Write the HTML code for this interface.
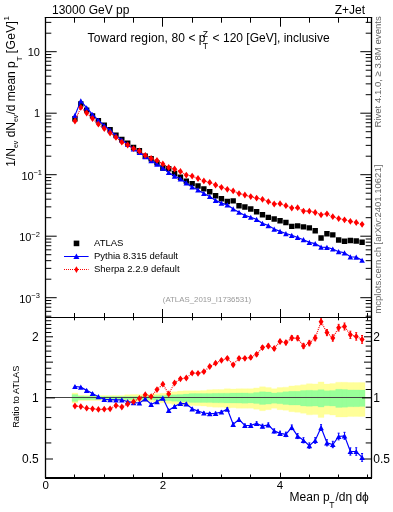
<!DOCTYPE html><html><head><meta charset="utf-8"><style>html,body{margin:0;padding:0;background:#fff;width:393px;height:512px;overflow:hidden}svg{display:block;will-change:transform}</style></head><body><svg width="393" height="512" viewBox="0 0 393 512"><path d="M72.02 393.01H77.88V403.07H72.02ZM77.88 395.29H83.74V400.59H77.88ZM83.74 395.38H89.60V400.49H83.74ZM89.60 395.47H95.46V400.40H89.60ZM95.46 395.47H101.32V400.40H95.46ZM101.32 395.47H107.18V400.40H101.32ZM107.18 395.47H113.04V400.40H107.18ZM113.04 395.47H118.90V400.40H113.04ZM118.90 395.38H124.76V400.49H118.90ZM124.76 394.70H130.62V401.22H124.76ZM130.62 394.53H136.48V401.41H130.62ZM136.48 394.44H142.34V401.50H136.48ZM142.34 394.36H148.20V401.59H142.34ZM148.20 394.27H154.06V401.68H148.20ZM154.06 393.77H159.92V402.24H154.06ZM159.92 393.35H165.78V402.70H159.92ZM165.78 392.60H171.64V403.54H165.78ZM171.64 391.77H177.50V404.49H171.64ZM177.50 391.03H183.36V405.35H177.50ZM183.36 390.71H189.22V405.73H183.36ZM189.22 390.87H195.08V405.54H189.22ZM195.08 390.71H200.94V405.73H195.08ZM200.94 390.46H206.80V406.02H200.94ZM206.80 389.82H212.66V406.80H206.80ZM212.66 389.50H218.52V407.19H212.66ZM218.52 389.50H224.38V407.19H218.52ZM224.38 388.70H230.24V408.17H224.38ZM230.24 389.10H236.10V407.68H230.24ZM236.10 388.70H241.96V408.17H236.10ZM241.96 388.70H247.82V408.17H241.96ZM247.82 388.70H253.68V408.17H247.82ZM253.68 387.91H259.54V409.17H253.68ZM259.54 386.74H265.40V410.69H259.54ZM265.40 387.52H271.26V409.67H265.40ZM271.26 388.70H277.12V408.17H271.26ZM277.12 387.52H282.98V409.67H277.12ZM282.98 387.13H288.84V410.18H282.98ZM288.84 385.96H294.70V411.71H288.84ZM294.70 385.58H300.56V412.23H294.70ZM300.56 384.82H306.42V413.27H300.56ZM306.42 383.68H312.28V414.86H306.42ZM312.28 383.91H318.14V414.54H312.28ZM318.14 381.90H324.00V417.46H318.14ZM324.00 384.06H329.86V414.33H324.00ZM329.86 383.53H335.72V415.07H329.86ZM335.72 382.19H341.58V417.02H335.72ZM341.58 382.27H347.44V416.91H341.58ZM347.44 382.56H353.30V416.48H347.44ZM353.30 382.56H359.16V416.48H353.30ZM359.16 382.56H365.02V416.48H359.16Z" fill="#ffff99" stroke="#ffff99" stroke-width="0.3"/><path d="M72.02 394.53H77.88V401.41H72.02ZM77.88 396.07H83.74V399.77H77.88ZM83.74 396.15H89.60V399.68H83.74ZM89.60 396.24H95.46V399.59H89.60ZM95.46 396.50H101.32V399.32H95.46ZM101.32 396.50H107.18V399.32H101.32ZM107.18 396.50H113.04V399.32H107.18ZM113.04 396.50H118.90V399.32H113.04ZM118.90 396.50H124.76V399.32H118.90ZM124.76 396.41H130.62V399.41H124.76ZM130.62 396.41H136.48V399.41H130.62ZM136.48 396.41H142.34V399.41H136.48ZM142.34 396.33H148.20V399.50H142.34ZM148.20 396.24H154.06V399.59H148.20ZM154.06 395.72H159.92V400.13H154.06ZM159.92 395.47H165.78V400.40H159.92ZM165.78 395.12H171.64V400.77H165.78ZM171.64 394.78H177.50V401.13H171.64ZM177.50 394.44H183.36V401.50H177.50ZM183.36 394.10H189.22V401.87H183.36ZM189.22 393.60H195.08V402.42H189.22ZM195.08 393.60H200.94V402.42H195.08ZM200.94 393.51H206.80V402.51H200.94ZM206.80 393.43H212.66V402.61H206.80ZM212.66 393.35H218.52V402.70H212.66ZM218.52 393.26H224.38V402.79H218.52ZM224.38 393.18H230.24V402.89H224.38ZM230.24 393.10H236.10V402.98H230.24ZM236.10 393.01H241.96V403.07H236.10ZM241.96 392.93H247.82V403.17H241.96ZM247.82 393.18H253.68V402.89H247.82ZM253.68 392.60H259.54V403.54H253.68ZM259.54 391.77H265.40V404.49H259.54ZM265.40 392.10H271.26V404.11H265.40ZM271.26 392.93H277.12V403.17H271.26ZM277.12 392.43H282.98V403.73H277.12ZM282.98 391.77H288.84V404.49H282.98ZM288.84 391.36H294.70V404.96H288.84ZM294.70 391.36H300.56V404.96H294.70ZM300.56 390.55H306.42V405.92H300.56ZM306.42 390.30H312.28V406.21H306.42ZM312.28 390.46H318.14V406.02H312.28ZM318.14 389.66H324.00V406.99H318.14ZM324.00 390.71H329.86V405.73H324.00ZM329.86 390.46H335.72V406.02H329.86ZM335.72 389.34H341.58V407.38H335.72ZM341.58 389.50H347.44V407.19H341.58ZM347.44 389.90H353.30V406.70H347.44ZM353.30 389.90H359.16V406.70H353.30ZM359.16 390.06H365.02V406.51H359.16Z" fill="#99ff99" stroke="#99ff99" stroke-width="0.3"/><path d="M46 397.50H371" stroke="#444" stroke-width="1" fill="none"/><path d="M44.85 17.5H372.15M45.5 317.5H371.5" stroke="#000" stroke-width="1" fill="none"/><path d="M371.5 17.0V478.0M45.5 17.0V478.0" stroke="#000" stroke-width="1.3" fill="none"/><rect x="45" y="477" width="327" height="2" fill="#000"/><path d="M46.00 316.21L51.30 316.21M371.00 316.21L365.70 316.21M46.00 311.34L51.30 311.34M371.00 311.34L365.70 311.34M46.00 307.23L51.30 307.23M371.00 307.23L365.70 307.23M46.00 303.66L51.30 303.66M371.00 303.66L365.70 303.66M46.00 300.51L51.30 300.51M371.00 300.51L365.70 300.51M46.00 297.70L56.70 297.70M371.00 297.70L360.30 297.70M46.00 279.19L51.30 279.19M371.00 279.19L365.70 279.19M46.00 268.36L51.30 268.36M371.00 268.36L365.70 268.36M46.00 260.67L51.30 260.67M371.00 260.67L365.70 260.67M46.00 254.71L51.30 254.71M371.00 254.71L365.70 254.71M46.00 249.84L51.30 249.84M371.00 249.84L365.70 249.84M46.00 245.73L51.30 245.73M371.00 245.73L365.70 245.73M46.00 242.16L51.30 242.16M371.00 242.16L365.70 242.16M46.00 239.01L51.30 239.01M371.00 239.01L365.70 239.01M46.00 236.20L56.70 236.20M371.00 236.20L360.30 236.20M46.00 217.69L51.30 217.69M371.00 217.69L365.70 217.69M46.00 206.86L51.30 206.86M371.00 206.86L365.70 206.86M46.00 199.17L51.30 199.17M371.00 199.17L365.70 199.17M46.00 193.21L51.30 193.21M371.00 193.21L365.70 193.21M46.00 188.34L51.30 188.34M371.00 188.34L365.70 188.34M46.00 184.23L51.30 184.23M371.00 184.23L365.70 184.23M46.00 180.66L51.30 180.66M371.00 180.66L365.70 180.66M46.00 177.51L51.30 177.51M371.00 177.51L365.70 177.51M46.00 174.70L56.70 174.70M371.00 174.70L360.30 174.70M46.00 156.19L51.30 156.19M371.00 156.19L365.70 156.19M46.00 145.36L51.30 145.36M371.00 145.36L365.70 145.36M46.00 137.67L51.30 137.67M371.00 137.67L365.70 137.67M46.00 131.71L51.30 131.71M371.00 131.71L365.70 131.71M46.00 126.84L51.30 126.84M371.00 126.84L365.70 126.84M46.00 122.73L51.30 122.73M371.00 122.73L365.70 122.73M46.00 119.16L51.30 119.16M371.00 119.16L365.70 119.16M46.00 116.01L51.30 116.01M371.00 116.01L365.70 116.01M46.00 113.20L56.70 113.20M371.00 113.20L360.30 113.20M46.00 94.69L51.30 94.69M371.00 94.69L365.70 94.69M46.00 83.86L51.30 83.86M371.00 83.86L365.70 83.86M46.00 76.17L51.30 76.17M371.00 76.17L365.70 76.17M46.00 70.21L51.30 70.21M371.00 70.21L365.70 70.21M46.00 65.34L51.30 65.34M371.00 65.34L365.70 65.34M46.00 61.23L51.30 61.23M371.00 61.23L365.70 61.23M46.00 57.66L51.30 57.66M371.00 57.66L365.70 57.66M46.00 54.51L51.30 54.51M371.00 54.51L365.70 54.51M46.00 51.70L56.70 51.70M371.00 51.70L360.30 51.70M46.00 33.19L51.30 33.19M371.00 33.19L365.70 33.19M46.00 22.36L51.30 22.36M371.00 22.36L365.70 22.36M45.50 18.00L45.50 26.70M45.50 317.00L45.50 309.00M45.50 318.00L45.50 323.00M45.50 477.00L45.50 472.70M74.50 18.00L74.50 22.70M74.50 317.00L74.50 313.00M74.50 318.00L74.50 320.30M74.50 477.00L74.50 474.50M104.50 18.00L104.50 22.70M104.50 317.00L104.50 313.00M104.50 318.00L104.50 320.30M104.50 477.00L104.50 474.50M133.50 18.00L133.50 22.70M133.50 317.00L133.50 313.00M133.50 318.00L133.50 320.30M133.50 477.00L133.50 474.50M162.50 18.00L162.50 26.70M162.50 317.00L162.50 309.00M162.50 318.00L162.50 323.00M162.50 477.00L162.50 472.70M192.50 18.00L192.50 22.70M192.50 317.00L192.50 313.00M192.50 318.00L192.50 320.30M192.50 477.00L192.50 474.50M221.50 18.00L221.50 22.70M221.50 317.00L221.50 313.00M221.50 318.00L221.50 320.30M221.50 477.00L221.50 474.50M250.50 18.00L250.50 22.70M250.50 317.00L250.50 313.00M250.50 318.00L250.50 320.30M250.50 477.00L250.50 474.50M280.50 18.00L280.50 26.70M280.50 317.00L280.50 309.00M280.50 318.00L280.50 323.00M280.50 477.00L280.50 472.70M309.50 18.00L309.50 22.70M309.50 317.00L309.50 313.00M309.50 318.00L309.50 320.30M309.50 477.00L309.50 474.50M338.50 18.00L338.50 22.70M338.50 317.00L338.50 313.00M338.50 318.00L338.50 320.30M338.50 477.00L338.50 474.50M367.50 18.00L367.50 22.70M367.50 317.00L367.50 313.00M367.50 318.00L367.50 320.30M367.50 477.00L367.50 474.50M46.00 459.01L53.00 459.01M371.00 459.01L364.00 459.01M46.00 442.94L51.30 442.94M371.00 442.94L365.70 442.94M46.00 429.35L51.30 429.35M371.00 429.35L365.70 429.35M46.00 417.57L51.30 417.57M371.00 417.57L365.70 417.57M46.00 407.19L51.30 407.19M371.00 407.19L365.70 407.19M46.00 397.90L55.00 397.90M371.00 397.90L362.00 397.90M46.00 389.50L51.30 389.50M371.00 389.50L365.70 389.50M46.00 381.83L51.30 381.83M371.00 381.83L365.70 381.83M46.00 374.77L51.30 374.77M371.00 374.77L365.70 374.77M46.00 368.24L51.30 368.24M371.00 368.24L365.70 368.24M46.00 362.15L53.00 362.15M371.00 362.15L364.00 362.15M46.00 356.46L51.30 356.46M371.00 356.46L365.70 356.46M46.00 351.12L51.30 351.12M371.00 351.12L365.70 351.12M46.00 346.08L51.30 346.08M371.00 346.08L365.70 346.08M46.00 341.31L51.30 341.31M371.00 341.31L365.70 341.31M46.00 336.79L53.00 336.79M371.00 336.79L364.00 336.79M46.00 332.49L51.30 332.49M371.00 332.49L365.70 332.49M46.00 328.39L51.30 328.39M371.00 328.39L365.70 328.39M46.00 324.47L51.30 324.47M371.00 324.47L365.70 324.47M46.00 320.72L51.30 320.72M371.00 320.72L365.70 320.72" stroke="#000" stroke-width="1" fill="none"/><path d="M72.25 116.12h5.40v5.40h-5.40ZM78.11 101.33h5.40v5.40h-5.40ZM83.97 107.39h5.40v5.40h-5.40ZM89.83 113.15h5.40v5.40h-5.40ZM95.69 118.02h5.40v5.40h-5.40ZM101.55 122.38h5.40v5.40h-5.40ZM107.41 127.00h5.40v5.40h-5.40ZM113.27 132.40h5.40v5.40h-5.40ZM119.13 136.74h5.40v5.40h-5.40ZM124.99 140.45h5.40v5.40h-5.40ZM130.85 144.75h5.40v5.40h-5.40ZM136.71 148.12h5.40v5.40h-5.40ZM142.57 153.57h5.40v5.40h-5.40ZM148.43 155.99h5.40v5.40h-5.40ZM154.29 160.21h5.40v5.40h-5.40ZM160.15 165.35h5.40v5.40h-5.40ZM166.01 166.01h5.40v5.40h-5.40ZM171.87 170.81h5.40v5.40h-5.40ZM177.73 174.49h5.40v5.40h-5.40ZM183.59 178.43h5.40v5.40h-5.40ZM189.45 180.91h5.40v5.40h-5.40ZM195.31 183.25h5.40v5.40h-5.40ZM201.17 186.14h5.40v5.40h-5.40ZM207.03 189.06h5.40v5.40h-5.40ZM212.89 193.01h5.40v5.40h-5.40ZM218.75 196.10h5.40v5.40h-5.40ZM224.61 198.75h5.40v5.40h-5.40ZM230.47 198.21h5.40v5.40h-5.40ZM236.33 203.00h5.40v5.40h-5.40ZM242.19 204.35h5.40v5.40h-5.40ZM248.05 206.24h5.40v5.40h-5.40ZM253.91 209.01h5.40v5.40h-5.40ZM259.77 212.12h5.40v5.40h-5.40ZM265.63 214.71h5.40v5.40h-5.40ZM271.49 216.33h5.40v5.40h-5.40ZM277.35 217.99h5.40v5.40h-5.40ZM283.21 219.78h5.40v5.40h-5.40ZM289.07 223.67h5.40v5.40h-5.40ZM294.93 223.19h5.40v5.40h-5.40ZM300.79 224.16h5.40v5.40h-5.40ZM306.65 225.15h5.40v5.40h-5.40ZM312.51 228.02h5.40v5.40h-5.40ZM318.37 235.34h5.40v5.40h-5.40ZM324.23 231.09h5.40v5.40h-5.40ZM330.09 232.17h5.40v5.40h-5.40ZM335.95 237.31h5.40v5.40h-5.40ZM341.81 238.59h5.40v5.40h-5.40ZM347.67 237.83h5.40v5.40h-5.40ZM353.53 238.27h5.40v5.40h-5.40ZM359.39 239.54h5.40v5.40h-5.40Z" fill="#000"/><path d="M74.95 115.37L80.81 100.79L86.67 107.82L92.53 114.52L98.39 120.35L104.25 125.50L110.11 130.21L115.97 135.67L121.83 140.02L127.69 144.30L133.55 148.90L139.41 152.36L145.27 156.57L151.13 160.63L156.99 164.07L162.85 168.11L168.71 172.47L174.57 176.09L180.43 178.82L186.29 182.92L192.15 186.92L198.01 189.95L203.87 193.41L209.73 196.51L215.59 200.40L221.45 203.07L227.31 204.84L233.17 208.91L239.03 212.24L244.89 215.41L250.75 217.27L256.61 219.46L262.47 223.37L268.33 225.56L274.19 229.03L280.05 231.42L285.91 233.54L291.77 235.28L297.63 237.47L303.49 239.71L309.35 242.31L315.21 243.63L321.07 247.04L326.93 247.40L332.79 248.99L338.65 251.71L344.51 252.78L350.37 256.78L356.23 257.21L362.09 260.27" stroke="#00f" stroke-width="1.2" fill="none"/><path d="M74.95 112.77L77.75 117.97L72.15 117.97ZM80.81 98.19L83.61 103.39L78.01 103.39ZM86.67 105.22L89.47 110.42L83.87 110.42ZM92.53 111.92L95.33 117.12L89.73 117.12ZM98.39 117.75L101.19 122.95L95.59 122.95ZM104.25 122.90L107.05 128.10L101.45 128.10ZM110.11 127.61L112.91 132.81L107.31 132.81ZM115.97 133.07L118.77 138.27L113.17 138.27ZM121.83 137.42L124.63 142.62L119.03 142.62ZM127.69 141.70L130.49 146.90L124.89 146.90ZM133.55 146.30L136.35 151.50L130.75 151.50ZM139.41 149.76L142.21 154.96L136.61 154.96ZM145.27 153.97L148.07 159.17L142.47 159.17ZM151.13 158.03L153.93 163.23L148.33 163.23ZM156.99 161.47L159.79 166.67L154.19 166.67ZM162.85 165.51L165.65 170.71L160.05 170.71ZM168.71 169.87L171.51 175.07L165.91 175.07ZM174.57 173.49L177.37 178.69L171.77 178.69ZM180.43 176.22L183.23 181.42L177.63 181.42ZM186.29 180.32L189.09 185.52L183.49 185.52ZM192.15 184.32L194.95 189.52L189.35 189.52ZM198.01 187.35L200.81 192.55L195.21 192.55ZM203.87 190.81L206.67 196.01L201.07 196.01ZM209.73 193.91L212.53 199.11L206.93 199.11ZM215.59 197.80L218.39 203.00L212.79 203.00ZM221.45 200.47L224.25 205.67L218.65 205.67ZM227.31 202.24L230.11 207.44L224.51 207.44ZM233.17 206.31L235.97 211.51L230.37 211.51ZM239.03 209.64L241.83 214.84L236.23 214.84ZM244.89 212.81L247.69 218.01L242.09 218.01ZM250.75 214.67L253.55 219.87L247.95 219.87ZM256.61 216.86L259.41 222.06L253.81 222.06ZM262.47 220.77L265.27 225.97L259.67 225.97ZM268.33 222.96L271.13 228.16L265.53 228.16ZM274.19 226.43L276.99 231.63L271.39 231.63ZM280.05 228.82L282.85 234.02L277.25 234.02ZM285.91 230.94L288.71 236.14L283.11 236.14ZM291.77 232.68L294.57 237.88L288.97 237.88ZM297.63 234.87L300.43 240.07L294.83 240.07ZM303.49 237.11L306.29 242.31L300.69 242.31ZM309.35 239.71L312.15 244.91L306.55 244.91ZM315.21 241.03L318.01 246.23L312.41 246.23ZM321.07 244.44L323.87 249.64L318.27 249.64ZM326.93 244.80L329.73 250.00L324.13 250.00ZM332.79 246.39L335.59 251.59L329.99 251.59ZM338.65 249.11L341.45 254.31L335.85 254.31ZM344.51 250.18L347.31 255.38L341.71 255.38ZM350.37 254.18L353.17 259.38L347.57 259.38ZM356.23 254.61L359.03 259.81L353.43 259.81ZM362.09 257.67L364.89 262.87L359.29 262.87Z" fill="#00f"/><path d="M74.95 121.00L80.81 107.40L86.67 113.00L92.53 118.60L98.39 124.20L104.25 128.50L110.11 133.00L115.97 137.40L121.83 142.20L127.69 145.00L133.55 148.60L139.41 151.00L145.27 155.30L151.13 158.30L156.99 160.40L162.85 163.90L168.71 167.50L174.57 169.00L180.43 171.40L186.29 175.10L192.15 176.10L198.01 178.50L203.87 180.90L209.73 182.40L215.59 185.00L221.45 187.30L227.31 189.30L233.17 190.90L239.03 193.60L244.89 195.00L250.75 196.60L256.61 198.10L262.47 199.30L268.33 201.60L274.19 204.00L280.05 203.70L285.91 205.70L291.77 208.00L297.63 207.70L303.49 211.10L309.35 211.20L315.21 212.50L321.07 214.80L326.93 213.80L332.79 216.70L338.65 218.60L344.51 219.80L350.37 221.30L356.23 222.50L362.09 224.30" stroke="#f00" stroke-width="1.2" stroke-dasharray="1 1" fill="none"/><path d="M74.95 117.60L77.45 121.00L74.95 124.40L72.45 121.00ZM80.81 104.00L83.31 107.40L80.81 110.80L78.31 107.40ZM86.67 109.60L89.17 113.00L86.67 116.40L84.17 113.00ZM92.53 115.20L95.03 118.60L92.53 122.00L90.03 118.60ZM98.39 120.80L100.89 124.20L98.39 127.60L95.89 124.20ZM104.25 125.10L106.75 128.50L104.25 131.90L101.75 128.50ZM110.11 129.60L112.61 133.00L110.11 136.40L107.61 133.00ZM115.97 134.00L118.47 137.40L115.97 140.80L113.47 137.40ZM121.83 138.80L124.33 142.20L121.83 145.60L119.33 142.20ZM127.69 141.60L130.19 145.00L127.69 148.40L125.19 145.00ZM133.55 145.20L136.05 148.60L133.55 152.00L131.05 148.60ZM139.41 147.60L141.91 151.00L139.41 154.40L136.91 151.00ZM145.27 151.90L147.77 155.30L145.27 158.70L142.77 155.30ZM151.13 154.90L153.63 158.30L151.13 161.70L148.63 158.30ZM156.99 157.00L159.49 160.40L156.99 163.80L154.49 160.40ZM162.85 160.50L165.35 163.90L162.85 167.30L160.35 163.90ZM168.71 164.10L171.21 167.50L168.71 170.90L166.21 167.50ZM174.57 165.60L177.07 169.00L174.57 172.40L172.07 169.00ZM180.43 168.00L182.93 171.40L180.43 174.80L177.93 171.40ZM186.29 171.70L188.79 175.10L186.29 178.50L183.79 175.10ZM192.15 172.70L194.65 176.10L192.15 179.50L189.65 176.10ZM198.01 175.10L200.51 178.50L198.01 181.90L195.51 178.50ZM203.87 177.50L206.37 180.90L203.87 184.30L201.37 180.90ZM209.73 179.00L212.23 182.40L209.73 185.80L207.23 182.40ZM215.59 181.60L218.09 185.00L215.59 188.40L213.09 185.00ZM221.45 183.90L223.95 187.30L221.45 190.70L218.95 187.30ZM227.31 185.90L229.81 189.30L227.31 192.70L224.81 189.30ZM233.17 187.50L235.67 190.90L233.17 194.30L230.67 190.90ZM239.03 190.20L241.53 193.60L239.03 197.00L236.53 193.60ZM244.89 191.60L247.39 195.00L244.89 198.40L242.39 195.00ZM250.75 193.20L253.25 196.60L250.75 200.00L248.25 196.60ZM256.61 194.70L259.11 198.10L256.61 201.50L254.11 198.10ZM262.47 195.90L264.97 199.30L262.47 202.70L259.97 199.30ZM268.33 198.20L270.83 201.60L268.33 205.00L265.83 201.60ZM274.19 200.60L276.69 204.00L274.19 207.40L271.69 204.00ZM280.05 200.30L282.55 203.70L280.05 207.10L277.55 203.70ZM285.91 202.30L288.41 205.70L285.91 209.10L283.41 205.70ZM291.77 204.60L294.27 208.00L291.77 211.40L289.27 208.00ZM297.63 204.30L300.13 207.70L297.63 211.10L295.13 207.70ZM303.49 207.70L305.99 211.10L303.49 214.50L300.99 211.10ZM309.35 207.80L311.85 211.20L309.35 214.60L306.85 211.20ZM315.21 209.10L317.71 212.50L315.21 215.90L312.71 212.50ZM321.07 211.40L323.57 214.80L321.07 218.20L318.57 214.80ZM326.93 210.40L329.43 213.80L326.93 217.20L324.43 213.80ZM332.79 213.30L335.29 216.70L332.79 220.10L330.29 216.70ZM338.65 215.20L341.15 218.60L338.65 222.00L336.15 218.60ZM344.51 216.40L347.01 219.80L344.51 223.20L342.01 219.80ZM350.37 217.90L352.87 221.30L350.37 224.70L347.87 221.30ZM356.23 219.10L358.73 222.50L356.23 225.90L353.73 222.50ZM362.09 220.90L364.59 224.30L362.09 227.70L359.59 224.30Z" fill="#f00"/><path d="M74.95 386.20V386.80M73.95 386.20h2M73.95 386.80h2M80.81 386.90V387.50M79.81 386.90h2M79.81 387.50h2M86.67 390.09V390.71M85.67 390.09h2M85.67 390.71h2M92.53 393.19V393.81M91.53 393.19h2M91.53 393.81h2M98.39 396.38V397.02M97.39 396.38h2M97.39 397.02h2M104.25 398.96V399.64M103.25 398.96h2M103.25 399.64h2M110.11 399.25V399.95M109.11 399.25h2M109.11 399.95h2M115.97 399.43V400.17M114.97 399.43h2M114.97 400.17h2M121.83 399.40V400.20M120.83 399.40h2M120.83 400.20h2M127.69 401.28V402.12M126.69 401.28h2M126.69 402.12h2M133.55 402.25V403.15M132.55 402.25h2M132.55 403.15h2M139.41 402.52V403.48M138.41 402.52h2M138.41 403.48h2M145.27 398.38V399.42M144.27 398.38h2M144.27 399.42h2M151.13 403.75V404.85M150.13 403.75h2M150.13 404.85h2M156.99 401.11V402.29M155.99 401.11h2M155.99 402.29h2M162.85 397.46V398.74M161.85 397.46h2M161.85 398.74h2M168.71 409.62V410.98M167.71 409.62h2M167.71 410.98h2M174.57 405.67V407.13M173.57 405.67h2M173.57 407.13h2M180.43 402.51V404.09M179.43 402.51h2M179.43 404.09h2M186.29 402.96V404.64M185.29 402.96h2M185.29 404.64h2M192.15 407.90V409.70M191.15 407.90h2M191.15 409.70h2M198.01 410.14V412.06M197.01 410.14h2M197.01 412.06h2M203.87 411.97V414.03M202.87 411.97h2M202.87 414.03h2M209.73 412.51V414.69M208.73 412.51h2M208.73 414.69h2M215.59 412.24V414.56M214.59 412.24h2M214.59 414.56h2M221.45 410.76V413.24M220.45 410.76h2M220.45 413.24h2M227.31 407.79V410.41M226.31 407.79h2M226.31 410.41h2M233.17 422.91V425.69M232.17 422.91h2M232.17 425.69h2M239.03 418.02V420.98M238.03 418.02h2M238.03 420.98h2M244.89 423.94V427.06M243.89 423.94h2M243.89 427.06h2M250.75 423.75V427.05M249.75 423.75h2M249.75 427.05h2M256.61 421.76V425.24M255.61 421.76h2M255.61 425.24h2M262.47 424.26V427.94M261.47 424.26h2M261.47 427.94h2M268.33 422.87V426.73M267.33 422.87h2M267.33 426.73h2M274.19 428.87V432.93M273.19 428.87h2M273.19 432.93h2M280.05 431.16V435.44M279.05 431.16h2M279.05 435.44h2M285.91 432.16V436.64M284.91 432.16h2M284.91 436.64h2M291.77 424.95V429.65M290.77 424.95h2M290.77 429.65h2M297.63 433.63V438.57M296.63 433.63h2M296.63 438.57h2M303.49 437.72V442.88M302.49 437.72h2M302.49 442.88h2M309.35 442.90V448.30M308.35 442.90h2M308.35 448.30h2M315.21 437.68V443.32M314.21 437.68h2M314.21 443.32h2M321.07 424.66V430.54M320.07 424.66h2M320.07 430.54h2M326.93 439.73V445.87M325.93 439.73h2M325.93 445.87h2M332.79 441.30V447.70M331.79 441.30h2M331.79 447.70h2M338.65 433.16V439.84M337.65 433.16h2M337.65 439.84h2M344.51 432.33V439.27M343.51 432.33h2M343.51 439.27h2M350.37 447.89V455.11M349.37 447.89h2M349.37 455.11h2M356.23 447.75V455.25M355.23 447.75h2M355.23 455.25h2M362.09 453.50V461.30M361.09 453.50h2M361.09 461.30h2" stroke="#00f" stroke-width="1" fill="none"/><path d="M74.95 386.50L80.81 387.20L86.67 390.40L92.53 393.50L98.39 396.70L104.25 399.30L110.11 399.60L115.97 399.80L121.83 399.80L127.69 401.70L133.55 402.70L139.41 403.00L145.27 398.90L151.13 404.30L156.99 401.70L162.85 398.10L168.71 410.30L174.57 406.40L180.43 403.30L186.29 403.80L192.15 408.80L198.01 411.10L203.87 413.00L209.73 413.60L215.59 413.40L221.45 412.00L227.31 409.10L233.17 424.30L239.03 419.50L244.89 425.50L250.75 425.40L256.61 423.50L262.47 426.10L268.33 424.80L274.19 430.90L280.05 433.30L285.91 434.40L291.77 427.30L297.63 436.10L303.49 440.30L309.35 445.60L315.21 440.50L321.07 427.60L326.93 442.80L332.79 444.50L338.65 436.50L344.51 435.80L350.37 451.50L356.23 451.50L362.09 457.40" stroke="#00f" stroke-width="1.2" fill="none"/><path d="M74.95 383.90L77.75 389.10L72.15 389.10ZM80.81 384.60L83.61 389.80L78.01 389.80ZM86.67 387.80L89.47 393.00L83.87 393.00ZM92.53 390.90L95.33 396.10L89.73 396.10ZM98.39 394.10L101.19 399.30L95.59 399.30ZM104.25 396.70L107.05 401.90L101.45 401.90ZM110.11 397.00L112.91 402.20L107.31 402.20ZM115.97 397.20L118.77 402.40L113.17 402.40ZM121.83 397.20L124.63 402.40L119.03 402.40ZM127.69 399.10L130.49 404.30L124.89 404.30ZM133.55 400.10L136.35 405.30L130.75 405.30ZM139.41 400.40L142.21 405.60L136.61 405.60ZM145.27 396.30L148.07 401.50L142.47 401.50ZM151.13 401.70L153.93 406.90L148.33 406.90ZM156.99 399.10L159.79 404.30L154.19 404.30ZM162.85 395.50L165.65 400.70L160.05 400.70ZM168.71 407.70L171.51 412.90L165.91 412.90ZM174.57 403.80L177.37 409.00L171.77 409.00ZM180.43 400.70L183.23 405.90L177.63 405.90ZM186.29 401.20L189.09 406.40L183.49 406.40ZM192.15 406.20L194.95 411.40L189.35 411.40ZM198.01 408.50L200.81 413.70L195.21 413.70ZM203.87 410.40L206.67 415.60L201.07 415.60ZM209.73 411.00L212.53 416.20L206.93 416.20ZM215.59 410.80L218.39 416.00L212.79 416.00ZM221.45 409.40L224.25 414.60L218.65 414.60ZM227.31 406.50L230.11 411.70L224.51 411.70ZM233.17 421.70L235.97 426.90L230.37 426.90ZM239.03 416.90L241.83 422.10L236.23 422.10ZM244.89 422.90L247.69 428.10L242.09 428.10ZM250.75 422.80L253.55 428.00L247.95 428.00ZM256.61 420.90L259.41 426.10L253.81 426.10ZM262.47 423.50L265.27 428.70L259.67 428.70ZM268.33 422.20L271.13 427.40L265.53 427.40ZM274.19 428.30L276.99 433.50L271.39 433.50ZM280.05 430.70L282.85 435.90L277.25 435.90ZM285.91 431.80L288.71 437.00L283.11 437.00ZM291.77 424.70L294.57 429.90L288.97 429.90ZM297.63 433.50L300.43 438.70L294.83 438.70ZM303.49 437.70L306.29 442.90L300.69 442.90ZM309.35 443.00L312.15 448.20L306.55 448.20ZM315.21 437.90L318.01 443.10L312.41 443.10ZM321.07 425.00L323.87 430.20L318.27 430.20ZM326.93 440.20L329.73 445.40L324.13 445.40ZM332.79 441.90L335.59 447.10L329.99 447.10ZM338.65 433.90L341.45 439.10L335.85 439.10ZM344.51 433.20L347.31 438.40L341.71 438.40ZM350.37 448.90L353.17 454.10L347.57 454.10ZM356.23 448.90L359.03 454.10L353.43 454.10ZM362.09 454.80L364.89 460.00L359.29 460.00Z" fill="#00f"/><path d="M74.95 405.70V406.30M73.95 405.70h2M73.95 406.30h2M80.81 406.30V406.90M79.81 406.30h2M79.81 406.90h2M86.67 407.89V408.51M85.67 407.89h2M85.67 408.51h2M92.53 408.49V409.11M91.53 408.49h2M91.53 409.11h2M98.39 409.08V409.72M97.39 409.08h2M97.39 409.72h2M104.25 408.86V409.54M103.25 408.86h2M103.25 409.54h2M110.11 408.45V409.15M109.11 408.45h2M109.11 409.15h2M115.97 405.13V405.87M114.97 405.13h2M114.97 405.87h2M121.83 406.60V407.40M120.83 406.60h2M120.83 407.40h2M127.69 403.58V404.42M126.69 403.58h2M126.69 404.42h2M133.55 401.25V402.15M132.55 401.25h2M132.55 402.15h2M139.41 398.02V398.98M138.41 398.02h2M138.41 398.98h2M145.27 394.18V395.22M144.27 394.18h2M144.27 395.22h2M151.13 396.05V397.15M150.13 396.05h2M150.13 397.15h2M156.99 389.01V390.19M155.99 389.01h2M155.99 390.19h2M162.85 383.56V384.84M161.85 383.56h2M161.85 384.84h2M168.71 393.22V394.58M167.71 393.22h2M167.71 394.58h2M174.57 382.27V383.73M173.57 382.27h2M173.57 383.73h2M180.43 378.01V379.59M179.43 378.01h2M179.43 379.59h2M186.29 377.16V378.84M185.29 377.16h2M185.29 378.84h2M192.15 372.20V374.00M191.15 372.20h2M191.15 374.00h2M198.01 372.34V374.26M197.01 372.34h2M197.01 374.26h2M203.87 370.67V372.73M202.87 370.67h2M202.87 372.73h2M209.73 365.41V367.59M208.73 365.41h2M208.73 367.59h2M215.59 362.04V364.36M214.59 362.04h2M214.59 364.36h2M221.45 359.06V361.54M220.45 359.06h2M220.45 361.54h2M227.31 356.99V359.61M226.31 356.99h2M226.31 359.61h2M233.17 363.41V366.19M232.17 363.41h2M232.17 366.19h2M239.03 356.82V359.78M238.03 356.82h2M238.03 359.78h2M244.89 356.74V359.86M243.89 356.74h2M243.89 359.86h2M250.75 355.75V359.05M249.75 355.75h2M249.75 359.05h2M256.61 352.56V356.04M255.61 352.56h2M255.61 356.04h2M262.47 345.76V349.44M261.47 345.76h2M261.47 349.44h2M268.33 344.07V347.93M267.33 344.07h2M267.33 347.93h2M274.19 346.47V350.53M273.19 346.47h2M273.19 350.53h2M280.05 339.36V343.64M279.05 339.36h2M279.05 343.64h2M285.91 340.36V344.84M284.91 340.36h2M284.91 344.84h2M291.77 335.65V340.35M290.77 335.65h2M290.77 340.35h2M297.63 335.73V340.67M296.63 335.73h2M296.63 340.67h2M303.49 343.42V348.58M302.49 343.42h2M302.49 348.58h2M309.35 340.40V345.80M308.35 340.40h2M308.35 345.80h2M315.21 335.18V340.82M314.21 335.18h2M314.21 340.82h2M321.07 318.76V324.64M320.07 318.76h2M320.07 324.64h2M326.93 329.53V335.67M325.93 329.53h2M325.93 335.67h2M332.79 334.80V341.20M331.79 334.80h2M331.79 341.20h2M338.65 324.36V331.04M337.65 324.36h2M337.65 331.04h2M344.51 323.03V329.97M343.51 323.03h2M343.51 329.97h2M350.37 331.19V338.41M349.37 331.19h2M349.37 338.41h2M356.23 332.65V340.15M355.23 332.65h2M355.23 340.15h2M362.09 335.50V343.30M361.09 335.50h2M361.09 343.30h2" stroke="#f00" stroke-width="1" fill="none"/><path d="M74.95 406.00L80.81 406.60L86.67 408.20L92.53 408.80L98.39 409.40L104.25 409.20L110.11 408.80L115.97 405.50L121.83 407.00L127.69 404.00L133.55 401.70L139.41 398.50L145.27 394.70L151.13 396.60L156.99 389.60L162.85 384.20L168.71 393.90L174.57 383.00L180.43 378.80L186.29 378.00L192.15 373.10L198.01 373.30L203.87 371.70L209.73 366.50L215.59 363.20L221.45 360.30L227.31 358.30L233.17 364.80L239.03 358.30L244.89 358.30L250.75 357.40L256.61 354.30L262.47 347.60L268.33 346.00L274.19 348.50L280.05 341.50L285.91 342.60L291.77 338.00L297.63 338.20L303.49 346.00L309.35 343.10L315.21 338.00L321.07 321.70L326.93 332.60L332.79 338.00L338.65 327.70L344.51 326.50L350.37 334.80L356.23 336.40L362.09 339.40" stroke="#f00" stroke-width="1.2" stroke-dasharray="1 1" fill="none"/><path d="M74.95 402.60L77.45 406.00L74.95 409.40L72.45 406.00ZM80.81 403.20L83.31 406.60L80.81 410.00L78.31 406.60ZM86.67 404.80L89.17 408.20L86.67 411.60L84.17 408.20ZM92.53 405.40L95.03 408.80L92.53 412.20L90.03 408.80ZM98.39 406.00L100.89 409.40L98.39 412.80L95.89 409.40ZM104.25 405.80L106.75 409.20L104.25 412.60L101.75 409.20ZM110.11 405.40L112.61 408.80L110.11 412.20L107.61 408.80ZM115.97 402.10L118.47 405.50L115.97 408.90L113.47 405.50ZM121.83 403.60L124.33 407.00L121.83 410.40L119.33 407.00ZM127.69 400.60L130.19 404.00L127.69 407.40L125.19 404.00ZM133.55 398.30L136.05 401.70L133.55 405.10L131.05 401.70ZM139.41 395.10L141.91 398.50L139.41 401.90L136.91 398.50ZM145.27 391.30L147.77 394.70L145.27 398.10L142.77 394.70ZM151.13 393.20L153.63 396.60L151.13 400.00L148.63 396.60ZM156.99 386.20L159.49 389.60L156.99 393.00L154.49 389.60ZM162.85 380.80L165.35 384.20L162.85 387.60L160.35 384.20ZM168.71 390.50L171.21 393.90L168.71 397.30L166.21 393.90ZM174.57 379.60L177.07 383.00L174.57 386.40L172.07 383.00ZM180.43 375.40L182.93 378.80L180.43 382.20L177.93 378.80ZM186.29 374.60L188.79 378.00L186.29 381.40L183.79 378.00ZM192.15 369.70L194.65 373.10L192.15 376.50L189.65 373.10ZM198.01 369.90L200.51 373.30L198.01 376.70L195.51 373.30ZM203.87 368.30L206.37 371.70L203.87 375.10L201.37 371.70ZM209.73 363.10L212.23 366.50L209.73 369.90L207.23 366.50ZM215.59 359.80L218.09 363.20L215.59 366.60L213.09 363.20ZM221.45 356.90L223.95 360.30L221.45 363.70L218.95 360.30ZM227.31 354.90L229.81 358.30L227.31 361.70L224.81 358.30ZM233.17 361.40L235.67 364.80L233.17 368.20L230.67 364.80ZM239.03 354.90L241.53 358.30L239.03 361.70L236.53 358.30ZM244.89 354.90L247.39 358.30L244.89 361.70L242.39 358.30ZM250.75 354.00L253.25 357.40L250.75 360.80L248.25 357.40ZM256.61 350.90L259.11 354.30L256.61 357.70L254.11 354.30ZM262.47 344.20L264.97 347.60L262.47 351.00L259.97 347.60ZM268.33 342.60L270.83 346.00L268.33 349.40L265.83 346.00ZM274.19 345.10L276.69 348.50L274.19 351.90L271.69 348.50ZM280.05 338.10L282.55 341.50L280.05 344.90L277.55 341.50ZM285.91 339.20L288.41 342.60L285.91 346.00L283.41 342.60ZM291.77 334.60L294.27 338.00L291.77 341.40L289.27 338.00ZM297.63 334.80L300.13 338.20L297.63 341.60L295.13 338.20ZM303.49 342.60L305.99 346.00L303.49 349.40L300.99 346.00ZM309.35 339.70L311.85 343.10L309.35 346.50L306.85 343.10ZM315.21 334.60L317.71 338.00L315.21 341.40L312.71 338.00ZM321.07 318.30L323.57 321.70L321.07 325.10L318.57 321.70ZM326.93 329.20L329.43 332.60L326.93 336.00L324.43 332.60ZM332.79 334.60L335.29 338.00L332.79 341.40L330.29 338.00ZM338.65 324.30L341.15 327.70L338.65 331.10L336.15 327.70ZM344.51 323.10L347.01 326.50L344.51 329.90L342.01 326.50ZM350.37 331.40L352.87 334.80L350.37 338.20L347.87 334.80ZM356.23 333.00L358.73 336.40L356.23 339.80L353.73 336.40ZM362.09 336.00L364.59 339.40L362.09 342.80L359.59 339.40Z" fill="#f00"/><text x="52" y="13.7" font-family="Liberation Sans" font-size="12">13000 GeV pp</text><text x="365" y="13.7" font-family="Liberation Sans" font-size="12" text-anchor="end">Z+Jet</text><text x="87.6" y="42.2" font-family="Liberation Sans" font-size="12" letter-spacing="0.12">Toward region, 80 &lt;</text><text x="198.8" y="42.2" font-family="Liberation Sans" font-size="12">p</text><text x="202.7" y="36.9" font-family="Liberation Sans" font-size="8.5">Z</text><text x="202.8" y="48.6" font-family="Liberation Sans" font-size="8.5">T</text><text x="329.7" y="42.2" font-family="Liberation Sans" font-size="12" text-anchor="end">&lt; 120 [GeV], inclusive</text><text x="40" y="55.5" font-family="Liberation Sans" font-size="11" text-anchor="end">10</text><text x="40" y="117.0" font-family="Liberation Sans" font-size="11" text-anchor="end">1</text><text x="21.4" y="179.8" font-family="Liberation Sans" font-size="11">10<tspan font-size="7.5" dy="-4.4" dx="-0.2">&#8722;1</tspan></text><text x="19.2" y="241.3" font-family="Liberation Sans" font-size="11">10<tspan font-size="7.5" dy="-4.4" dx="-0.2">&#8722;2</tspan></text><text x="19.2" y="302.8" font-family="Liberation Sans" font-size="11">10<tspan font-size="7.5" dy="-4.4" dx="-0.2">&#8722;3</tspan></text><text x="38.8" y="341.1" font-family="Liberation Sans" font-size="12" text-anchor="end">2</text><text x="373.3" y="341.1" font-family="Liberation Sans" font-size="12">2</text><text x="38.8" y="402.2" font-family="Liberation Sans" font-size="12" text-anchor="end">1</text><text x="373.3" y="402.2" font-family="Liberation Sans" font-size="12">1</text><text x="38.8" y="463.3" font-family="Liberation Sans" font-size="12" text-anchor="end">0.5</text><text x="373.3" y="463.3" font-family="Liberation Sans" font-size="12">0.5</text><text x="45.65" y="489.1" font-family="Liberation Sans" font-size="11.5" text-anchor="middle">0</text><text x="162.85" y="489.1" font-family="Liberation Sans" font-size="11.5" text-anchor="middle">2</text><text x="280.05" y="489.1" font-family="Liberation Sans" font-size="11.5" text-anchor="middle">4</text><text x="289.6" y="501.2" font-family="Liberation Sans" font-size="12">Mean p</text><text x="329.3" y="508.2" font-family="Liberation Sans" font-size="8.5">T</text><text x="368.8" y="501.2" font-family="Liberation Sans" font-size="12" text-anchor="end">/d&#951; d&#981;</text><text transform="translate(15.2 166.8) rotate(-90)" font-family="Liberation Sans" font-size="12">1/N<tspan font-size="7" dy="3">ev</tspan><tspan dy="-3"> dN</tspan><tspan font-size="7" dy="3">ev</tspan><tspan dy="-3">/d mean p</tspan><tspan font-size="8" dy="6.5">T</tspan><tspan dy="-6.5" dx="-0.5" letter-spacing="0.35"> [GeV]</tspan><tspan font-size="8" dy="-6.2" dx="0.2">1</tspan></text><text transform="translate(19.2 396.7) rotate(-90)" font-family="Liberation Sans" font-size="9.2" text-anchor="middle">Ratio to ATLAS</text><text transform="translate(380.6 127.6) rotate(-90)" font-family="Liberation Sans" font-size="9.6" fill="#666">Rivet 4.1.0, &#8805; 3.8M events</text><text transform="translate(380.6 313.6) rotate(-90)" font-family="Liberation Sans" font-size="9.5" fill="#666">mcplots.cern.ch [arXiv:2401.10621]</text><text x="162.8" y="302.4" font-family="Liberation Sans" font-size="7.85" fill="#999">(ATLAS_2019_I1736531)</text><rect x="73.7" y="240.6" width="5.6" height="5.6" fill="#000"/><path d="M64 256.5H88.6" stroke="#00f" stroke-width="1"/><path d="M76.4 253.5L79.4 259L73.4 259Z" fill="#00f"/><path d="M64 269.5H88.6" stroke="#f00" stroke-width="1" stroke-dasharray="1 1"/><path d="M76.4 266.3L78.4 269.6L76.4 273L74.4 269.6Z" fill="#f00"/><text x="94" y="246.4" font-family="Liberation Sans" font-size="9.5">ATLAS</text><text x="94" y="259.4" font-family="Liberation Sans" font-size="9.5">Pythia 8.315 default</text><text x="94" y="272.4" font-family="Liberation Sans" font-size="9.5">Sherpa 2.2.9 default</text></svg></body></html>
